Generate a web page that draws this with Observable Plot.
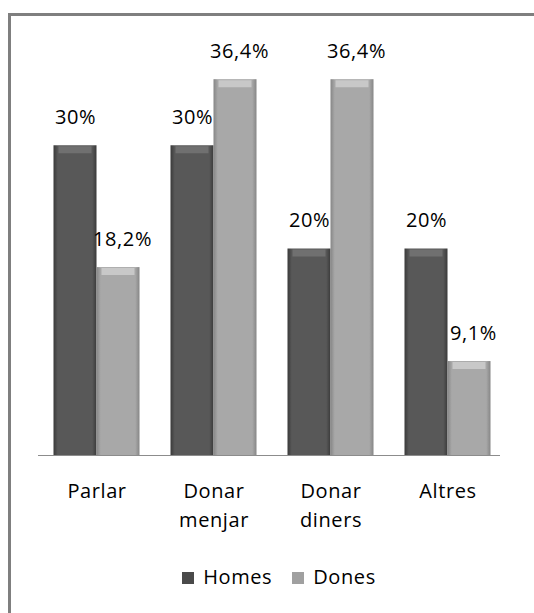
<!DOCTYPE html>
<html>
<head>
<meta charset="utf-8">
<script src="https://cdn.jsdelivr.net/npm/d3@7"></script>
<script src="https://cdn.jsdelivr.net/npm/@observablehq/plot@0.6"></script>
<style>
  html, body { margin: 0; padding: 0; background: #fff; overflow: hidden; }
  body { width: 534px; height: 613px; position: relative; font-family: "Open Sans", sans-serif; }
  #frame { position: absolute; left: 8px; top: 13px; width: 600px; height: 700px;
           border-left: 3px solid #7f7f7f; border-top: 3px solid #7f7f7f; box-sizing: border-box; }
  #chart { position: absolute; left: 0; top: 0; }
  #legend { position: absolute; left: 0; top: 563px; width: 534px; text-align: center;
            font-size: 20px; letter-spacing: 0.6px; color: #000; padding-left: 24px; box-sizing: border-box; }
  .sw { display: inline-block; width: 12px; height: 12px; margin-right: 9px; vertical-align: 0px; }
  .item { margin: 0 10px; }
  #chart text { letter-spacing: 0.6px; }
</style>
</head>
<body>
<div id="frame"></div>
<div id="chart"></div>
<div id="legend"></div>
<script>
const categories = ["Parlar", "Donar\nmenjar", "Donar\ndiners", "Altres"];
const series = ["Homes", "Dones"];
const homes = [0.30, 0.30, 0.20, 0.20];
const dones = [0.182, 0.364, 0.364, 0.091];
const homesLabels = ["30%", "30%", "20%", "20%"];
const donesLabels = ["18,2%", "36,4%", "36,4%", "9,1%"];

const rowsH = categories.map((c, i) => ({category: c, series: "Homes", value: homes[i], label: homesLabels[i]}));
const rowsD = categories.map((c, i) => ({category: c, series: "Dones", value: dones[i], label: donesLabels[i]}));

const half = 21.5;
const fontFam = '"Open Sans", sans-serif';

const plot = Plot.plot({
  width: 534,
  height: 555,
  marginLeft: 38,
  marginRight: 34,
  marginTop: 42,
  marginBottom: 100,
  style: {background: "transparent", fontFamily: fontFam, fontSize: "20px", color: "#000"},
  x: {domain: categories, type: "band", paddingInner: 0.636, paddingOuter: 0.276, align: 0.54, label: null},
  y: {domain: [0, 0.40], axis: null},
  marks: [
    Plot.barY(rowsH, {x: "category", y: "value", dx: -half, fill: "url(#gDark)"}),
    Plot.barY(rowsD, {x: "category", y: "value", dx: half, fill: "url(#gLight)"}),
    Plot.tickY(rowsH, {x: "category", y: "value", dx: -half, dy: 4, stroke: "#707070", strokeWidth: 7, insetLeft: 5, insetRight: 5}),
    Plot.tickY(rowsD, {x: "category", y: "value", dx: half, dy: 4, stroke: "#c8c8c8", strokeWidth: 7, insetLeft: 5, insetRight: 5}),
    Plot.ruleY([0], {stroke: "#8c8c8c", strokeWidth: 1.2}),
    Plot.text(rowsH, {x: "category", y: "value", text: "label", dx: -half, dy: -28, fontSize: 20, fill: "#000"}),
    Plot.text(rowsD, {x: "category", y: "value", text: "label", dx: half + 4, dy: -28, fontSize: 20, fill: "#000"}),
    Plot.axisX({tickSize: 0, tickPadding: 22, fontSize: 20, fill: "#000", lineHeight: 1.45})
  ]
});

// gradients for a bevelled look
const defs = d3.select(plot).insert("defs", ":first-child");
function grad(id, edge, mid) {
  const g = defs.append("linearGradient").attr("id", id).attr("x1", "0").attr("x2", "1").attr("y1", "0").attr("y2", "0");
  g.append("stop").attr("offset", "0").attr("stop-color", edge);
  g.append("stop").attr("offset", "0.1").attr("stop-color", mid);
  g.append("stop").attr("offset", "0.9").attr("stop-color", mid);
  g.append("stop").attr("offset", "1").attr("stop-color", edge);
}
grad("gDark", "#3a3a3a", "#585858");
grad("gLight", "#868686", "#a8a8a8");
document.getElementById("chart").appendChild(plot);

const legend = document.getElementById("legend");
const swColors = {Homes: "#4a4a4a", Dones: "#a0a0a0"};
series.forEach(s => {
  const span = document.createElement("span");
  span.className = "item";
  span.innerHTML = `<span class="sw" style="background:${swColors[s]}"></span>${s}`;
  legend.appendChild(span);
});
</script>
</body>
</html>
